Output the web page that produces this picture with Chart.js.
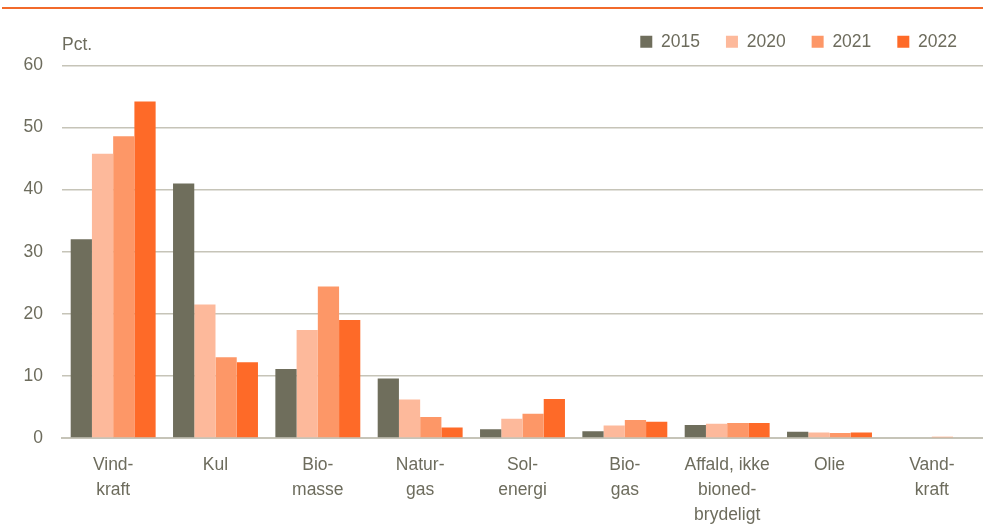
<!DOCTYPE html>
<html>
<head>
<meta charset="utf-8">
<script src="https://cdn.jsdelivr.net/npm/chart.js@4"></script>
<style>
  body { margin:0; background:#fff; }
  #wrap { position:relative; width:983px; height:531px; }
  #topline { position:absolute; left:2px; right:0; top:7px; height:2px; background:#f26a2b; }
  #chart { position:absolute; left:0; top:0; }
</style>
</head>
<body>
<div id="wrap">
  <div id="topline"></div>
  <canvas id="chart" width="983" height="531"></canvas>
</div>
<script>

const categories = [
  ['Vind-','kraft'], ['Kul'], ['Bio-','masse'], ['Natur-','gas'], ['Sol-','energi'],
  ['Bio-','gas'], ['Affald, ikke','bioned-','brydeligt'], ['Olie'], ['Vand-','kraft']
]

const years = ['2015','2020','2021','2022']

const values2015 = [32.0, 41.0, 11.1, 9.6, 1.4, 1.1, 2.1, 1.0, 0]
const values2020 = [45.8, 21.5, 17.4, 6.2, 3.1, 2.0, 2.3, 0.9, 0]
const values2021 = [48.6, 13.0, 24.4, 3.4, 3.9, 2.9, 2.4, 0.8, 0.2]
const values2022 = [54.2, 12.2, 19.0, 1.7, 6.3, 2.6, 2.4, 0.9, 0]

const yTicks = [0, 10, 20, 30, 40, 50, 60]

const colors = ['#6f6e5c', '#fdb99b', '#fd9767', '#fe6a28']
const textColor = '#6d6c5d'
const gridColor = '#c6c4b8'
const fontFamily = "'Liberation Sans', Arial, sans-serif"

const seriesValues = [values2015, values2020, values2021, values2022]

// "Pct." unit text above the y axis
const pctLabel = {
  id:'pctLabel',
  afterDraw(chart){
    const c = chart.ctx
    c.save()
    c.fillStyle = textColor
    c.font = '17.5px ' + fontFamily
    c.textBaseline = 'middle'
    c.textAlign = 'left'
    c.fillText('Pct.', chart.chartArea.left, 45)
    c.restore()
  }
}

// extra room under the legend
const legendGap = {
  id:'legendGap',
  beforeInit(chart){
    const fit = chart.legend.fit
    chart.legend.fit = function(){
      fit.bind(chart.legend)()
      this.height += 5
    }
  }
}

new Chart(document.getElementById('chart'), {
  type:'bar',
  data:{
    labels:categories,
    datasets:years.map((y,i)=>({
      label:y,
      data:seriesValues[i],
      backgroundColor:colors[i],
      borderWidth:0,
      categoryPercentage:0.83,
      barPercentage:1
    }))
  },
  options:{
    responsive:false,
    animation:false,
    devicePixelRatio:1,
    layout:{ padding:{ left:0, right:0, top:7, bottom:0 } },
    plugins:{
      legend:{
        position:'top',
        align:'end',
        labels:{
          color:textColor,
          font:{ family:fontFamily, size:17.5 },
          boxWidth:12,
          boxHeight:12,
          padding:26
        }
      },
      tooltip:{ enabled:false }
    },
    scales:{
      x:{
        afterFit(axis){ axis.height = 93 },
        grid:{ display:false, drawTicks:false },
        border:{ color:gridColor, width:2 },
        ticks:{
          color:textColor,
          font:{ family:fontFamily, size:17.5, lineHeight:1.43 },
          padding:15,
          maxRotation:0,
          autoSkip:false
        }
      },
      y:{
        min:0,
        max:60,
        afterFit(axis){ axis.width = 62 },
        afterBuildTicks(axis){ axis.ticks = yTicks.map(v=>({ value:v })) },
        grid:{ color:gridColor, lineWidth:1.5, drawTicks:false },
        border:{ display:false },
        ticks:{
          color:textColor,
          font:{ family:fontFamily, size:17.5 },
          padding:19
        }
      }
    }
  },
  plugins:[pctLabel, legendGap]
})
</script>
</body>
</html>
